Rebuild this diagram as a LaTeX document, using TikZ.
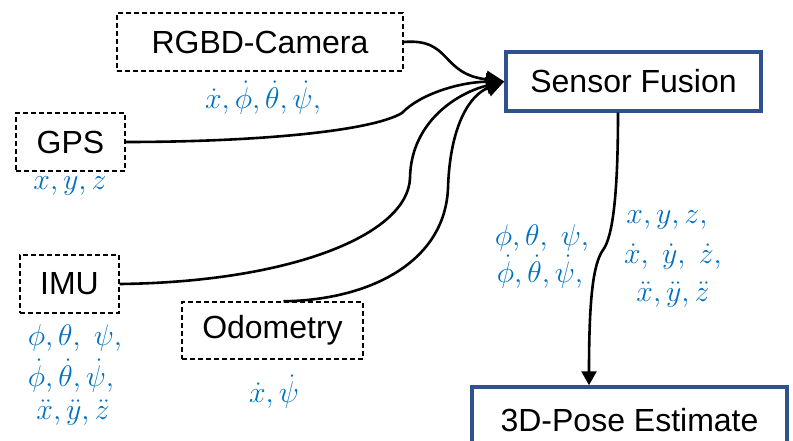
\documentclass[tikz,border=0pt]{standalone}
\usepackage{fontspec}
\setmainfont{Liberation Sans}
\usetikzlibrary{arrows.meta}
\definecolor{lblue}{RGB}{0,112,192}
\definecolor{bblue}{RGB}{47,82,143}
\newcommand{\mlab}[1]{\scalebox{1.2}{$#1$}}
\tikzset{
  srcbox/.style={draw=black, line width=1.4pt, dash pattern=on 5pt off 3pt, inner sep=0pt, font=\fontsize{32}{38}\selectfont},
  mainbox/.style={draw=bblue, line width=3.5pt, inner sep=0pt, fill=white, font=\fontsize{32}{38}\selectfont},
  conn/.style={line width=2.6pt, draw=black},
  bigtip/.style={-{Triangle[length=18pt,width=17pt]}},
  smalltip/.style={-{Triangle[length=14pt,width=15pt]}},
  lbl/.style={text=lblue, font=\fontsize{24.88}{30}\selectfont, inner sep=0pt}
}
\begin{document}
\begin{tikzpicture}[x=1pt,y=-1pt]
\useasboundingbox (0,0) rectangle (793,441);
\begin{scope}
\clip (0,0) rectangle (793,441);
% boxes
\node[srcbox, minimum width=286pt, minimum height=58pt] (rgbd) at (260,42) {RGBD-Camera};
\node[srcbox, minimum width=109pt, minimum height=58pt] (gps) at (70.5,142) {GPS};
\node[srcbox, minimum width=99pt, minimum height=58pt] (imu) at (69.5,284) {IMU};
\node[srcbox, minimum width=181pt, minimum height=57pt] (odo) at (272.5,330.5) {Odometry};
\node[mainbox, minimum width=255pt, minimum height=59pt] (sf) at (633.5,81.5) {Sensor Fusion};
\node[mainbox, minimum width=315pt, minimum height=66pt] (pose) at (629.5,420) {3D-Pose Estimate};

% labels
\node[lbl] (lrgbd) at (263,98) {\mlab{\dot{x},\dot{\phi},\dot{\theta},\dot{\psi},}};
\node[lbl] (lgps) at (70,186) {\mlab{x,y,z}};
\node[lbl] (limua) at (75,338) {\mlab{\phi,\theta,\ \psi,}};
\node[lbl] (limub) at (71,376) {\mlab{\dot{\phi},\dot{\theta},\dot{\psi},}};
\node[lbl] (limuc) at (73,413) {\mlab{\ddot{x},\ddot{y},\ddot{z}}};
\node[lbl] (lodo) at (274,392) {\mlab{\dot{x},\dot{\psi}}};
\node[lbl] (lmida) at (542,238) {\mlab{\phi,\theta,\ \psi,}};
\node[lbl] (lmidb) at (540,272) {\mlab{\dot{\phi},\dot{\theta},\dot{\psi},}};
\node[lbl] (lrighta) at (667,220) {\mlab{x,y,z,}};
\node[lbl] (lrightb) at (673,257) {\mlab{\dot{x},\ \dot{y},\ \dot{z},}};
\node[lbl] (lrightc) at (673,295) {\mlab{\ddot{x},\ddot{y},\ddot{z}}};

% connectors
\draw[conn, bigtip] (rgbd.east) .. controls (452,38) and (440,74) .. (sf.west);
\draw[conn, bigtip] (gps.east) .. controls (250,142) and (370,132) .. (402,113) .. controls (420,94) and (460,82) .. (sf.west);
\draw[conn, bigtip] (imu.east) .. controls (290,282) and (408,235) .. (410,178) .. controls (411,120) and (460,92) .. (sf.west);
\draw[conn, bigtip] ([xshift=11pt]odo.north) .. controls (370,300) and (445,262) .. (448,188) .. controls (450,125) and (470,95) .. (sf.west);
\draw[conn, smalltip] ([xshift=-15.5pt]sf.south) .. controls (618,200) and (612,238) .. (603,250) .. controls (593,264) and (589,300) .. ([xshift=-40.5pt]pose.north);
\end{scope}
\end{tikzpicture}
\end{document}
